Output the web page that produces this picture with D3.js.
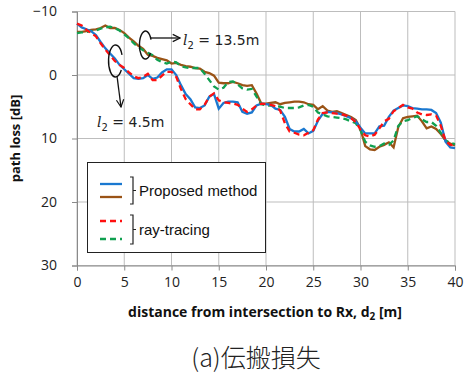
<!DOCTYPE html>
<html>
<head>
<meta charset="utf-8">
<script src="https://cdn.jsdelivr.net/npm/d3@7"></script>
<style>
  body { margin: 0; background: #fff; }
  svg { display: block; }
  text { font-family: "Open Sans", Lato, "Liberation Sans", sans-serif; }
</style>
</head>
<body>
<div id="chart"></div>
<script>
// distance from intersection to Rx [m], sampled every 0.5 m
const distance = d3.range(0, 40.5, 0.5);

// path loss [dB]
const proposed45 = [
  -8.1, -7.5, -7.2, -6.9, -6.3, -5.2, -4.2, -3.4, -2.6, -1.6,
  -0.9, -0.2, 0.5, 0.6, 0.5, 0.0, 0.6, 0.4, -0.4, -0.9,
  -0.9, 0.0, 1.6, 3.0, 3.8, 5.1, 5.2, 4.8, 3.4, 3.0,
  5.3, 4.4, 4.2, 4.2, 4.3, 5.8, 6.1, 5.9, 4.8, 4.5,
  4.6, 4.7, 5.3, 5.5, 6.6, 8.5, 8.9, 8.9, 8.5, 9.2,
  8.8, 7.2, 6.1, 5.8, 5.9, 6.0, 6.2, 6.5, 6.8, 7.3,
  8.3, 9.2, 9.2, 9.2, 8.1, 8.0, 6.6, 5.6, 5.2, 4.8,
  4.9, 5.2, 5.3, 5.4, 5.4, 5.5, 6.0, 7.5, 10.5, 11.4,
  11.5
];
const rayTracing45 = [
  -8.1, -7.8, -7.1, -6.6, -6.1, -5.0, -4.0, -3.1, -2.2, -1.6,
  -1.1, -0.4, 0.2, 0.5, 0.3, -0.2, 0.8, 0.8, 0.1, -0.5,
  -0.5, 0.3, 2.2, 3.8, 4.6, 5.4, 5.4, 4.7, 3.4, 2.9,
  4.0, 4.3, 4.4, 4.5, 4.7, 5.3, 5.8, 5.4, 4.8, 4.5,
  4.6, 4.7, 4.9, 5.6, 7.6, 8.9, 9.1, 9.4, 9.5, 9.1,
  8.7, 7.0, 6.0, 5.9, 6.0, 6.1, 6.2, 6.4, 6.8, 7.4,
  8.6, 9.5, 9.7, 9.4, 8.4, 7.3, 6.9, 5.7, 5.2, 4.7,
  5.1, 5.3, 5.9, 6.2, 6.3, 6.2, 6.4, 8.0, 10.4, 11.0,
  11.1
];
const proposed135 = [
  -6.8, -6.8, -6.9, -7.1, -7.2, -7.4, -7.8, -7.4, -7.4, -7.1,
  -6.6, -5.9, -5.3, -4.6, -4.1, -3.2, -3.0, -2.7, -2.5, -2.3,
  -1.8, -1.9, -1.6, -1.4, -1.3, -1.1, -1.0, -0.5, -0.3, 0.1,
  1.2, 1.3, 1.3, 1.1, 1.3, 1.6, 1.7, 1.6, 2.9, 4.5,
  4.5, 4.4, 4.3, 4.6, 4.4, 4.3, 4.2, 4.2, 4.3, 4.6,
  4.7, 5.4, 4.9, 5.6, 5.8, 5.7, 6.0, 6.3, 6.6, 7.1,
  8.5, 11.2, 11.7, 11.8, 11.3, 11.0, 10.6, 11.4, 8.2, 6.8,
  6.6, 6.5, 6.4, 7.3, 8.4, 8.1, 8.5, 9.3, 10.3, 10.8,
  11.1
];
const rayTracing135 = [
  -6.6, -6.7, -6.8, -6.9, -7.0, -7.3, -7.5, -7.6, -7.4, -7.0,
  -6.4, -5.8, -5.0, -4.4, -3.9, -3.5, -3.1, -2.4, -2.0, -1.8,
  -2.1, -2.0, -1.4, -1.2, -1.1, -1.1, -1.1, -0.2, 0.8, 1.8,
  2.3, 2.0, 1.1, 1.0, 1.5, 2.1, 2.3, 2.2, 3.4, 4.6,
  4.8, 4.8, 4.9, 5.0, 5.2, 5.2, 5.2, 5.1, 4.8, 4.7,
  5.0, 5.9, 6.2, 6.5, 6.6, 6.7, 6.8, 7.0, 7.3, 7.6,
  8.7, 10.5, 11.1, 11.3, 11.2, 10.8, 11.0, 10.3, 8.0, 7.3,
  7.1, 6.8, 6.5, 7.0, 7.4, 7.4, 8.0, 9.1, 10.3, 10.7,
  10.9
];

const xTicks = [0, 5, 10, 15, 20, 25, 30, 35, 40];
const yTicks = [-10, 0, 10, 20, 30];

const series = [
  { name: "proposed 13.5", values: proposed135, color: "#9a5316", dash: null },
  { name: "ray 13.5", values: rayTracing135, color: "#10a050", dash: "6,4" },
  { name: "proposed 4.5", values: proposed45, color: "#1a78d0", dash: null },
  { name: "ray 4.5", values: rayTracing45, color: "#ff1010", dash: "6,4" }
];

const W = 464, H = 374;
const margin = { top: 11.5, right: 9, bottom: 108.5, left: 77 };
const width = W - margin.left - margin.right;
const height = H - margin.top - margin.bottom;

const svg = d3.select("#chart").append("svg")
  .attr("width", W)
  .attr("height", H);

const g = svg.append("g")
  .attr("transform", "translate(" + margin.left + "," + margin.top + ")");

const x = d3.scaleLinear().domain([0, 40]).range([0, width]);
const y = d3.scaleLinear().domain([-10, 30]).range([0, height]);

// grid
g.append("g")
  .selectAll("line.h")
  .data(yTicks)
  .enter().append("line")
  .attr("x1", 0).attr("x2", width)
  .attr("y1", d => y(d)).attr("y2", d => y(d))
  .attr("stroke", "#bdbdbd").attr("stroke-width", 1);

g.append("g")
  .selectAll("line.v")
  .data(xTicks)
  .enter().append("line")
  .attr("x1", d => x(d)).attr("x2", d => x(d))
  .attr("y1", 0).attr("y2", height)
  .attr("stroke", "#bdbdbd").attr("stroke-width", 1);

// axes
const xAxis = g.append("g")
  .attr("transform", "translate(0," + height + ")")
  .call(d3.axisBottom(x).tickValues(xTicks).tickSize(5).tickPadding(7));
const yAxis = g.append("g")
  .call(d3.axisLeft(y).tickValues(yTicks).tickSize(5).tickPadding(15));

[xAxis, yAxis].forEach(a => {
  a.select(".domain").attr("stroke", "#8a8a8a");
  a.selectAll(".tick line").attr("stroke", "#8a8a8a");
  a.selectAll("text").attr("font-size", 14).attr("fill", "#222")
    .style("font-family", "'Open Sans', Lato, sans-serif");
});

// lines
const line = d3.line()
  .x((d, i) => x(distance[i]))
  .y(d => y(d));

series.forEach(s => {
  g.append("path")
    .datum(s.values)
    .attr("fill", "none")
    .attr("stroke", s.color)
    .attr("stroke-width", 2.3)
    .attr("stroke-dasharray", s.dash)
    .attr("d", line);
});

// annotations
svg.append("defs").append("marker")
  .attr("id", "arr")
  .attr("viewBox", "0 0 10 10")
  .attr("refX", 9).attr("refY", 5)
  .attr("markerWidth", 7).attr("markerHeight", 7)
  .attr("orient", "auto")
  .append("path")
  .attr("d", "M1,1 L9,5 L1,9")
  .attr("fill", "none").attr("stroke", "#111").attr("stroke-width", 1.3);

function loop(cx, cy, rx, ry) {
  svg.append("path")
    .attr("d", "M" + (cx + rx) + "," + (cy - ry * 0.45) +
      " A" + rx + "," + ry + " 0 1 0 " + (cx + rx * 0.9) + "," + (cy + ry * 0.5))
    .attr("fill", "none").attr("stroke", "#111").attr("stroke-width", 1.4);
}

loop(145, 46, 6, 14);
svg.append("line")
  .attr("x1", 151).attr("y1", 38).attr("x2", 180).attr("y2", 38)
  .attr("stroke", "#111").attr("stroke-width", 1.3)
  .attr("marker-end", "url(#arr)");

loop(115, 62, 7, 16);
svg.append("line")
  .attr("x1", 117).attr("y1", 76).attr("x2", 121).attr("y2", 107)
  .attr("stroke", "#111").attr("stroke-width", 1.3)
  .attr("marker-end", "url(#arr)");

function l2label(tx, ty, val) {
  const t = svg.append("text")
    .attr("x", tx).attr("y", ty)
    .attr("font-size", 14).attr("fill", "#222")
    .style("font-family", "'DejaVu Sans', sans-serif");
  t.append("tspan").attr("font-style", "italic").style("font-family", "'DejaVu Serif', serif").text("l");
  t.append("tspan").attr("font-size", 10).attr("dy", 4).text("2");
  t.append("tspan").attr("dy", -4).text(" = " + val);
}
l2label(183, 45, "13.5m");
l2label(97, 127, "4.5m");

// legend
const lg = svg.append("g");
lg.append("rect")
  .attr("x", 87.5).attr("y", 162.5).attr("width", 178).attr("height", 90)
  .attr("fill", "#fff").attr("stroke", "#222").attr("stroke-width", 1);

const legendRows = [
  { color: "#1a78d0", dash: null, y: 184 },
  { color: "#9a5316", dash: null, y: 197 },
  { color: "#ff1010", dash: "6,4", y: 221 },
  { color: "#10a050", dash: "6,4", y: 239 }
];
legendRows.forEach(r => {
  lg.append("line")
    .attr("x1", 100).attr("x2", 122).attr("y1", r.y).attr("y2", r.y)
    .attr("stroke", r.color).attr("stroke-width", 2.3)
    .attr("stroke-dasharray", r.dash);
});

function bracket(y1, y2) {
  const ym = (y1 + y2) / 2;
  lg.append("path")
    .attr("d", "M130," + y1 + " H133 V" + y2 + " H130 M133," + ym + " H136")
    .attr("fill", "none").attr("stroke", "#222").attr("stroke-width", 1.2);
}
bracket(177, 204);
bracket(215, 244);

lg.append("text").attr("x", 139).attr("y", 196)
  .attr("font-size", 15).attr("fill", "#111")
  .style("font-family", "'Liberation Sans', Arial, sans-serif")
  .text("Proposed method");
lg.append("text").attr("x", 139).attr("y", 235)
  .attr("font-size", 15).attr("fill", "#111")
  .style("font-family", "'Liberation Sans', Arial, sans-serif")
  .text("ray-tracing");

// axis titles
svg.append("text")
  .attr("transform", "translate(20," + (margin.top + height / 2) + ") rotate(-90)")
  .attr("text-anchor", "middle")
  .attr("font-size", 13).attr("font-weight", "bold").attr("fill", "#111")
  .text("path loss [dB]");

const xt = svg.append("text")
  .attr("x", 265).attr("y", 317)
  .attr("text-anchor", "middle")
  .attr("font-size", 14).attr("font-weight", "bold").attr("fill", "#111");
xt.append("tspan").text("distance from intersection to Rx, d");
xt.append("tspan").attr("font-size", 10).attr("dy", 3).text("2");
xt.append("tspan").attr("dy", -3).text(" [m]");

// caption
svg.append("text")
  .attr("x", 256).attr("y", 367)
  .attr("text-anchor", "middle")
  .attr("font-size", 25).attr("fill", "#222")
  .style("font-family", "'Noto Sans CJK JP', sans-serif")
  .style("font-weight", 300)
  .text("(a)伝搬損失");
</script>
</body>
</html>
